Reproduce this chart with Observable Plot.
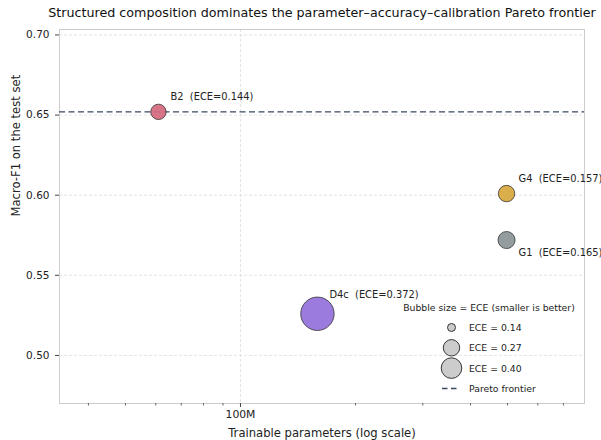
<!DOCTYPE html>
<html>
<head>
<meta charset="utf-8">
<script src="https://cdn.jsdelivr.net/npm/d3@7"></script>
<script src="https://cdn.jsdelivr.net/npm/@observablehq/plot@0.6"></script>
<style>
  html, body { margin: 0; padding: 0; background: #fff; }
  #chart { width: 601px; height: 440px; position: relative; }
  #chart svg { font-family: "DejaVu Sans", sans-serif; }
  #chart svg text { white-space: pre; }
</style>
</head>
<body>
<div id="chart"></div>
<script>
// ---- data ----
const models = ["B2", "D4c", "G4", "G1"];
const trainableParams = [61e6, 159e6, 497e6, 497e6];
const macroF1 = [0.652, 0.526, 0.601, 0.572];
const eceValues = [0.144, 0.372, 0.157, 0.165];
const labelSide = ["above", "above", "above", "below"];
const pointColors = ["#d4687e", "#9370db", "#d8a73d", "#8a9597"];
const paretoF1 = [0.652];
const yTicks = [0.50, 0.55, 0.60, 0.65, 0.70];
const xMajorTicks = [1e8];
const xMajorLabels = ["100M"];
const xMinorTicks = [4e7, 5e7, 6e7, 7e7, 8e7, 9e7, 2e8, 3e8, 4e8, 5e8, 6e8, 7e8];
const legendECE = [0.14, 0.27, 0.40];
const legendRadii = [4, 8.2, 10.3];

const titleText = "Structured composition dominates the parameter\u2013accuracy\u2013calibration Pareto frontier";
const xLabel = "Trainable parameters (log scale)";
const yLabel = "Macro-F1 on the test set";

const rows = models.map((m, i) => ({
  model: m, params: trainableParams[i], f1: macroF1[i], ece: eceValues[i],
  side: labelSide[i], color: pointColors[i]
}));

const rOpts = {type: "linear", domain: [0.144, 0.372], range: [7.7, 16.7]};
const rScale = Plot.scale({r: rOpts});

const labelMarks = rows.map(d => {
  const r = rScale.apply(d.ece);
  const dy = d.side === "above" ? -(r * 0.5 + 11) : (r * 0.5 + 9);
  return Plot.text([d], {
    x: "params", y: "f1",
    text: d => `${d.model}  (ECE=${d.ece.toFixed(3)})`,
    textAnchor: "start", dx: 12, dy,
    fontSize: 9.9, fill: "#222"
  });
});

const chart = Plot.plot({
  width: 601,
  height: 440,
  marginTop: 29,
  marginBottom: 37,
  marginLeft: 59,
  marginRight: 17,
  style: {fontFamily: "DejaVu Sans, sans-serif", background: "#fff"},
  x: {type: "log", domain: [33.6e6, 795e6]},
  y: {domain: [0.470, 0.7034]},
  r: rOpts,
  marks: [
    Plot.gridY(yTicks, {stroke: "#dcdcdc", strokeOpacity: 1, strokeDasharray: "3,2", strokeWidth: 0.8}),
    Plot.gridX(xMajorTicks, {stroke: "#dcdcdc", strokeOpacity: 1, strokeDasharray: "3,2", strokeWidth: 0.8}),
    Plot.frame({stroke: "#cccccc", strokeWidth: 1}),
    Plot.axisY(yTicks, {tickSize: 4, tickPadding: 6, tickFormat: d => d.toFixed(2), fontSize: 10.5, label: null, stroke: "#444", color: "#222"}),
    Plot.axisX(xMinorTicks, {tickSize: 2.5, tickFormat: () => "", label: null, stroke: "#666"}),
    Plot.axisX(xMajorTicks, {tickSize: 4, tickPadding: 3, tickFormat: d => xMajorLabels[xMajorTicks.indexOf(d)], fontSize: 10.8, label: null, stroke: "#444", color: "#222"}),
    Plot.ruleY(paretoF1, {stroke: "#3a4a60", strokeWidth: 1.4, strokeDasharray: "6,3.5"}),
    Plot.dot(rows, {x: "params", y: "f1", r: "ece", fill: "color", fillOpacity: 0.92, stroke: "#333", strokeWidth: 0.8}),
    ...labelMarks,
    Plot.text([titleText], {frameAnchor: "top", dy: -17, fontSize: 12.7, fill: "#111", lineAnchor: "middle"}),
    Plot.text([xLabel], {frameAnchor: "bottom", dy: 30, fontSize: 11.6, fill: "#222", lineAnchor: "middle"}),
    Plot.text([yLabel], {frameAnchor: "left", dx: -43, rotate: -90, fontSize: 11.6, fill: "#222", lineAnchor: "middle"})
  ]
});

document.getElementById("chart").appendChild(chart);

// ---- legend (drawn into the same svg) ----
const svg = d3.select(chart);
const lg = svg.append("g").attr("font-family", "DejaVu Sans, sans-serif").attr("font-size", 9.3).attr("fill", "#222").attr("text-anchor", "start");
lg.append("text").attr("x", 489).attr("y", 307).attr("text-anchor", "middle").attr("dominant-baseline", "central")
  .text("Bubble size = ECE (smaller is better)");
legendECE.forEach((v, i) => {
  const yy = 327.5 + i * 20.3;
  lg.append("circle").attr("cx", 451.5).attr("cy", yy).attr("r", legendRadii[i])
    .attr("fill", "#cccccc").attr("stroke", "#222").attr("stroke-width", 0.9);
  lg.append("text").attr("x", 469).attr("y", yy).attr("text-anchor", "start").attr("dominant-baseline", "central").text(`ECE = ${v.toFixed(2)}`);
});
lg.append("line").attr("x1", 442).attr("x2", 457).attr("y1", 388.5).attr("y2", 388.5)
  .attr("stroke", "#3a4a60").attr("stroke-width", 1.4).attr("stroke-dasharray", "5.5,3.5");
lg.append("text").attr("x", 469).attr("y", 388.5).attr("text-anchor", "start").attr("dominant-baseline", "central").text("Pareto frontier");
</script>
</body>
</html>
